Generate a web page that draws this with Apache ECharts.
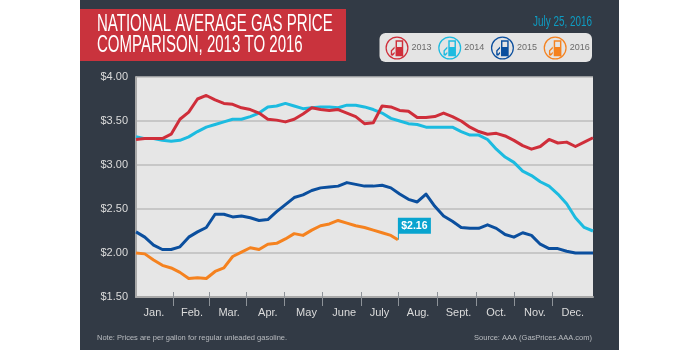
<!DOCTYPE html>
<html><head><meta charset="utf-8">
<style>html,body{margin:0;padding:0;background:#fff}#c{width:700px;height:350px}</style>
<script src="https://cdn.jsdelivr.net/npm/echarts@6/dist/echarts.min.js"></script>
</head><body><div id="c"></div>
<script>
const months = ['Jan.','Feb.','Mar.','Apr.','May','June','July','Aug.','Sept.','Oct.','Nov.','Dec.'];
const monthTickWeeks = [4.2,8.38,12.6,16.9,21.2,25.6,29.8,34.3,38.7,43.0,47.4];
const monthLabelWeeks = [2.05,6.37,10.6,15,19.4,23.7,27.7,32.1,36.7,41,45.4,49.7];
const years = ['2013','2014','2015','2016'];
const v2013 = [3.29,3.30,3.30,3.30,3.35,3.52,3.60,3.75,3.79,3.74,3.70,3.69,3.65,3.63,3.59,3.52,3.51,3.49,3.52,3.58,3.65,3.63,3.62,3.63,3.59,3.55,3.47,3.48,3.67,3.66,3.62,3.61,3.54,3.54,3.55,3.59,3.55,3.50,3.43,3.38,3.35,3.36,3.33,3.28,3.22,3.18,3.21,3.29,3.25,3.26,3.21,3.26,3.31];
const v2014 = [3.32,3.30,3.30,3.28,3.27,3.28,3.32,3.38,3.43,3.46,3.49,3.52,3.52,3.55,3.59,3.66,3.67,3.70,3.67,3.64,3.65,3.66,3.66,3.65,3.68,3.68,3.66,3.63,3.59,3.53,3.50,3.47,3.46,3.43,3.43,3.43,3.43,3.38,3.34,3.34,3.29,3.18,3.09,3.03,2.93,2.88,2.81,2.76,2.67,2.56,2.40,2.29,2.25];
const v2015 = [2.24,2.18,2.09,2.04,2.04,2.07,2.18,2.24,2.29,2.44,2.44,2.41,2.42,2.40,2.37,2.38,2.47,2.55,2.63,2.66,2.71,2.74,2.75,2.76,2.80,2.78,2.76,2.76,2.77,2.74,2.67,2.61,2.58,2.67,2.53,2.42,2.36,2.29,2.28,2.28,2.32,2.28,2.21,2.18,2.23,2.20,2.10,2.05,2.05,2.02,2.00,2.00,2.00];
const v2016 = [2.00,1.99,1.92,1.86,1.83,1.78,1.71,1.72,1.71,1.79,1.83,1.96,2.01,2.06,2.04,2.10,2.11,2.16,2.22,2.20,2.26,2.31,2.33,2.37,2.34,2.31,2.29,2.26,2.23,2.20,2.15];
const latestLabel = '$2.16';
const latestWeek = 29.8;
const toPoints = vals => vals.map((v,i)=>[i===30&&vals===v2016?latestWeek:i,v]);

const sans = '"Liberation Sans",sans-serif';
const pump = 'path://M12 0A12 12 0 1 0 12 24A12 12 0 1 0 12 0ZM12 1.3A10.7 10.7 0 1 1 12 22.7A10.7 10.7 0 1 1 12 1.3ZM10.5 4H18.5V20.5H10.5ZM12 5.4V11H17V5.4ZM9.5 10.5L5.5 14.5V19.5L7.5 20L9.5 18V16L7.5 18L6.9 17.6V15L9.5 12.5Z';
const colors = ['#cf2e3a','#1cbbe0','#0b4f9e','#f5821f'];
const zs = [4,3,5,6];
const allVals = [v2013,v2014,v2015,v2016];

const series = years.map((y,k)=>({
  name:y,type:'line',data:toPoints(allVals[k]),color:colors[k],showSymbol:false,z:zs[k],
  lineStyle:{width:3,color:colors[k],join:'round'},itemStyle:{color:colors[k]},silent:true,animation:false
}));
series[3].markPoint = {
  silent:true,animation:false,
  data:[{coord:[latestWeek,v2016[30]],value:latestLabel}],
  symbol:'path://M0 0H33V16H1V22H0Z',symbolSize:[33,22],symbolOffset:[16.5,-11],
  itemStyle:{color:'#08a4cf'},
  label:{show:true,position:'inside',offset:[0,-3],formatter:latestLabel,color:'#fff',fontFamily:sans,fontWeight:'bold',fontSize:10.5}
};

const chart = echarts.init(document.getElementById('c'),null,{renderer:'canvas'});
chart.setOption({
  animation:false,backgroundColor:'#fff',
  grid:{left:136,top:77,width:457,height:220,show:true,backgroundColor:'#e6e6e6',borderWidth:0,containLabel:false},
  legend:{left:385.5,top:36.5,padding:0,itemWidth:23,itemHeight:23,itemGap:6.7,icon:pump,data:years,selectedMode:false,
    textStyle:{color:'#6b6b6b',fontFamily:sans,fontSize:9,padding:[0,0,0,-2]}},
  xAxis:[{type:'value',min:0,max:52,splitLine:{show:false},
    axisLine:{show:true,lineStyle:{color:'#a8a8a8',width:2}},
    axisTick:{show:true,customValues:monthTickWeeks,length:9,lineStyle:{color:'#8d9298',width:1}},
    axisLabel:{show:true,customValues:monthLabelWeeks,margin:10,color:'#dcdcdc',fontFamily:sans,fontSize:11,
      formatter:v=>months[monthLabelWeeks.indexOf(v)]}},
    {type:'value',position:'bottom',min:0,max:52,splitLine:{show:false},axisLine:{show:false},
     axisTick:{show:true,inside:true,customValues:monthTickWeeks,length:5,lineStyle:{color:'#8d9298',width:1}},
     axisLabel:{show:false}}],
  yAxis:{type:'value',min:1.5,max:4,interval:0.5,
    axisLine:{show:true,lineStyle:{color:'#a8a8a8',width:2}},axisTick:{show:false},
    splitLine:{show:true,lineStyle:{color:'#bcbcbc',width:1.5}},
    axisLabel:{margin:8,color:'#dcdcdc',fontFamily:sans,fontSize:11,formatter:v=>'$'+v.toFixed(2)}},
  series,
  graphic:[
    {type:'rect',z:-100,shape:{x:80,y:0,width:539,height:350},style:{fill:'#323a45'},silent:true},
    {type:'rect',z:-90,shape:{x:80,y:9,width:266,height:52},style:{fill:'#c9333d'},silent:true},
    {type:'text',z:10,x:97,y:24,scaleX:0.626,style:{text:'NATIONAL AVERAGE GAS PRICE',fill:'#fff',font:'24px '+sans,textVerticalAlign:'middle'},silent:true},
    {type:'text',z:10,x:97,y:45.5,scaleX:0.626,style:{text:'COMPARISON, 2013 TO 2016',fill:'#fff',font:'24px '+sans,textVerticalAlign:'middle'},silent:true},
    {type:'text',z:10,x:592,y:22,scaleX:0.66,style:{text:'July 25, 2016',fill:'#0e9cc2',font:'15px '+sans,textAlign:'right',textVerticalAlign:'middle'},silent:true},
    {type:'rect',z:-90,shape:{x:379.5,y:33,width:212.5,height:29,r:6},style:{fill:'#e4e4e4'},silent:true},
    {type:'text',z:10,x:97,y:338,style:{text:'Note: Prices are per gallon for regular unleaded gasoline.',fill:'#b9bcc0',font:'7.5px '+sans,textVerticalAlign:'middle'},silent:true},
    {type:'text',z:10,x:592,y:338,style:{text:'Source: AAA (GasPrices.AAA.com)',fill:'#b9bcc0',font:'7.5px '+sans,textAlign:'right',textVerticalAlign:'middle'},silent:true}
  ]
});
</script></body></html>
